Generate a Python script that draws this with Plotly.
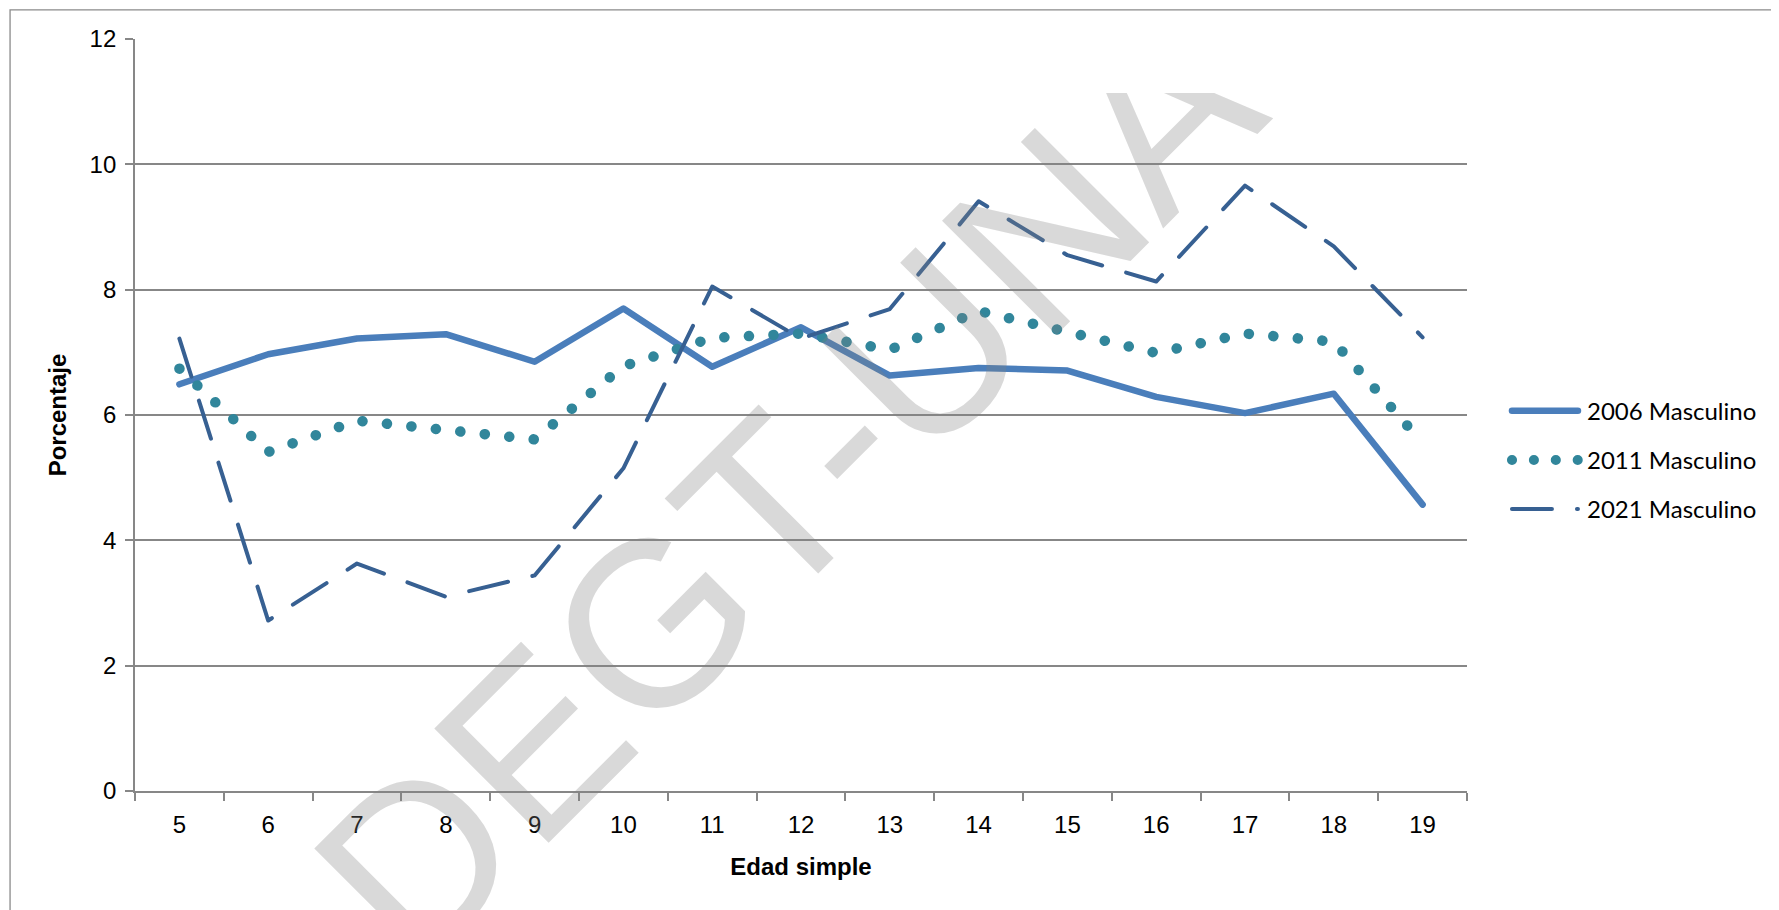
import plotly.graph_objects as go

# ---- data ----
edades = ["5", "6", "7", "8", "9", "10", "11", "12", "13", "14", "15", "16", "17", "18", "19"]
masc_2006 = [6.49, 6.97, 7.22, 7.29, 6.85, 7.70, 6.77, 7.40, 6.63, 6.75, 6.71, 6.29, 6.03, 6.34, 4.57]
masc_2011 = [6.74, 5.41, 5.91, 5.75, 5.61, 6.78, 7.23, 7.30, 7.04, 7.66, 7.34, 6.99, 7.30, 7.17, 5.55]
masc_2021 = [7.22, 2.72, 3.63, 3.10, 3.44, 5.15, 8.05, 7.22, 7.69, 9.41, 8.55, 8.13, 9.66, 8.69, 7.24]
series_names = ["2006 Masculino", "2011 Masculino", "2021 Masculino"]
y_ticks = [0, 2, 4, 6, 8, 10, 12]
watermark = "DEGT-UNA"

AXIS_FONT = "Liberation Sans Narrow, Arial Narrow, Liberation Sans, Arial, sans-serif"
LEG_FONT = "Lato, Carlito, Calibri, Open Sans, sans-serif"
GRID = "#878787"

fig = go.Figure()
fig.add_trace(go.Scatter(x=edades, y=masc_2006, mode="lines", name=series_names[0],
                         legendgroup="a",
                         line=dict(color="#4A7EBB", width=6.5, dash="solid")))
fig.add_trace(go.Scatter(x=edades, y=masc_2011, mode="lines", name=series_names[1],
                         legendgroup="b",
                         line=dict(color="#31869B", width=10.5, dash="0.1px,24.5px")))
fig.add_trace(go.Scatter(x=edades, y=masc_2021, mode="lines", name=series_names[2],
                         legendgroup="c",
                         line=dict(color="#376092", width=4, dash="40px,25px")))

fig.update_layout(
    width=1779, height=910,
    margin=dict(l=127, r=320, t=31, b=127),
    paper_bgcolor="white", plot_bgcolor="white",
    showlegend=True,
    legend=dict(x=1.03, xanchor="left", y=0.44, yanchor="middle",
                font=dict(family=LEG_FONT, size=24, color="#000000"),
                itemwidth=70,
                tracegroupgap=15, traceorder="grouped",
                bgcolor="rgba(0,0,0,0)"),
    xaxis=dict(type="category", range=[-0.5, 14.5], tickson="boundaries",
               ticks="outside", ticklen=8, tickcolor=GRID, tickwidth=1.5,
               showline=True, linecolor=GRID, linewidth=1.8, showgrid=False,
               tickfont=dict(family=AXIS_FONT, size=24, color="#000000"),
               ticklabelstandoff=11,
               title=dict(text="<b>Edad simple</b>", standoff=21,
                          font=dict(family=AXIS_FONT, size=24, color="#000000"))),
    yaxis=dict(range=[0, 12], tickvals=y_ticks, ticks="outside", ticklen=8,
               tickcolor=GRID, tickwidth=1.5,
               showline=True, linecolor=GRID, linewidth=1.8,
               showgrid=True, gridcolor=GRID, gridwidth=1.5, zeroline=False,
               tickfont=dict(family=AXIS_FONT, size=24, color="#000000"),
               ticklabelstandoff=4,
               title=dict(text="<b>Porcentaje</b>", standoff=16,
                          font=dict(family=AXIS_FONT, size=24, color="#000000"))),
    shapes=[dict(type="rect", xref="paper", yref="paper",
                 x0=-0.0938, x1=1.2297, y0=-0.25, y1=1.0386,
                 line=dict(color="#8a8a8a", width=1.3), fillcolor="rgba(0,0,0,0)",
                 layer="below")],
    annotations=[
        dict(text=watermark, xref="paper", yref="paper", x=0.4895, y=0.4003,
             xanchor="center", yanchor="middle", showarrow=False,
             textangle=-45,
             font=dict(family="Liberation Sans, Arial, sans-serif", size=235,
                       color="rgba(128,128,128,0.3)")),
        # white mask reproducing the cropped top edge of the watermark image
        dict(text=" ", xref="paper", yref="paper", x=0.7883, y=0.9628,
             xanchor="center", yanchor="middle", showarrow=False,
             width=290, height=52, bgcolor="white", borderpad=0, borderwidth=0),
    ],
)

post = """
var gd = document.getElementById('{plot_id}');
function rc(){
  gd.querySelectorAll('path.js-line').forEach(function(p){
    p.style.strokeLinecap='round'; p.style.strokeLinejoin='round';
  });
  var items = gd.querySelectorAll('.legend .traces');
  items.forEach(function(it, i){
    it.querySelectorAll('path.js-line').forEach(function(p){
      p.setAttribute('d', 'M5,0h66');
      if (i === 1) { p.style.strokeDasharray = '0.1px,21.8px'; }
    });
  });
}
rc(); if (gd.on) { gd.on('plotly_afterplot', rc); }
"""

fig.write_html("out.html", post_script=post)
